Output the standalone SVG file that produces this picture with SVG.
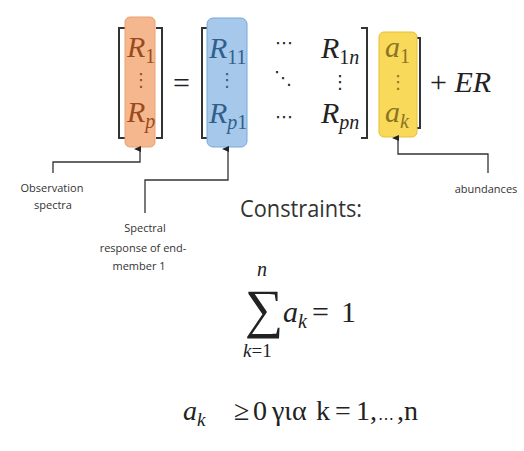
<svg xmlns="http://www.w3.org/2000/svg" width="524" height="451" viewBox="0 0 524 451">
<style>
.m{font-family:"Liberation Serif","DejaVu Serif",serif;font-size:30px;fill:#222}
.i{font-style:italic}
.n{font-style:normal}
.sub{font-size:20px}
.dots{font-family:"DejaVu Sans",sans-serif;font-size:18px;fill:#222}
.br{fill:none;stroke:#333;stroke-width:2}
.lbl{font-family:"Open Sans","Liberation Sans",sans-serif;font-size:11px;fill:#333;text-anchor:middle}
.conn{fill:none;stroke:#333;stroke-width:1.3}
.or{fill:#9a4a1c}
.bl{fill:#2f5f8c}
.ye{fill:#8a7424}
</style>
<defs>
<marker id="ah" markerWidth="8" markerHeight="8" refX="4" refY="7" orient="auto-start-reverse" markerUnits="userSpaceOnUse">
<path d="M1,8 L4,1 L7,8 Z" fill="#222"/>
</marker>
</defs>
<rect width="524" height="451" fill="#fff"/>

<g id="matrix-observation">
<path class="br" d="M125,28 H119 V138 H125"/>
<path class="br" d="M156,28 H162 V138 H156"/>
<rect x="125" y="17" width="30" height="130" rx="5" fill="#f5b88e" stroke="#e8a070" stroke-width="1"/>
<text class="m i or" x="127" y="57">R<tspan class="sub n" dy="6">1</tspan></text>
<text class="dots or" x="141" y="86" text-anchor="middle">⋮</text>
<text class="m i or" x="127" y="122">R<tspan class="sub i" dy="6">p</tspan></text>
</g>

<g id="equals">
<text class="m" x="173" y="93">=</text>
</g>

<g id="matrix-endmembers">
<path class="br" d="M208,28 H202 V138 H208"/>
<path class="br" d="M361,28 H367 V138 H361"/>
<rect x="207" y="18" width="40" height="129" rx="6" fill="#a6c8ea" stroke="#78a8d8" stroke-width="1"/>
<text class="m i bl" x="209" y="58">R<tspan class="sub n" dy="6">11</tspan></text>
<text class="dots bl" x="227" y="86" text-anchor="middle">⋮</text>
<text class="m i bl" x="209" y="123">R<tspan class="sub i" dy="6">p</tspan><tspan class="sub n">1</tspan></text>
<text class="dots" x="284" y="49" text-anchor="middle">⋯</text>
<text class="dots" x="283" y="84" text-anchor="middle">⋱</text>
<text class="dots" x="284" y="123" text-anchor="middle">⋯</text>
<text class="m i" x="321" y="58">R<tspan class="sub n" dy="6">1</tspan><tspan class="sub i">n</tspan></text>
<text class="dots" x="340" y="88" text-anchor="middle">⋮</text>
<text class="m i" x="321" y="123">R<tspan class="sub i" dy="6">pn</tspan></text>
</g>

<g id="vector-abundances">
<path class="br" d="M386,38 H381 V128 H386"/>
<path class="br" d="M414,38 H420 V128 H414"/>
<rect x="379" y="32" width="38" height="105" rx="5" fill="#f9d95a" stroke="#e8c030" stroke-width="1"/>
<text class="m i ye" x="385" y="57">a<tspan class="sub n" dy="6">1</tspan></text>
<text class="dots ye" x="398" y="88" text-anchor="middle">⋮</text>
<text class="m i ye" x="385" y="122">a<tspan class="sub i" dy="6">k</tspan></text>
</g>

<g id="plus-er">
<text class="m" x="430" y="92">+ <tspan class="i">ER</tspan></text>
</g>

<g id="connectors">
<path class="conn" d="M53,173 V162 H140 V149" marker-end="url(#ah)"/>
<path class="conn" d="M145,213 V180 H228 V149" marker-end="url(#ah)"/>
<path class="conn" d="M488,173 V154 H398 V138" marker-end="url(#ah)"/>
</g>

<g id="label-observation">
<text class="lbl" x="52" y="192">Observation</text>
<text class="lbl" x="53" y="209">spectra</text>
</g>
<g id="label-spectral">
<text class="lbl" x="145" y="232">Spectral</text>
<text class="lbl" x="143" y="252">response of end-</text>
<text class="lbl" x="139" y="270">member 1</text>
</g>
<g id="label-abundances">
<text class="lbl" x="486" y="193" font-size="10.5">abundances</text>
</g>

<g id="constraints">
<text x="240" y="217" font-family="Open Sans, Liberation Sans, sans-serif" font-size="24" fill="#333" textLength="122" lengthAdjust="spacingAndGlyphs">Constraints:</text>
<text class="m i" x="257" y="276" style="font-size:20px">n</text>
<text class="m" x="245" y="327" style="font-size:54px">∑</text>
<text class="m i" x="243" y="357" style="font-size:19px">k<tspan class="n">=1</tspan></text>
<text class="m" x="283" y="322"><tspan class="i">a</tspan><tspan class="sub i" dy="6">k</tspan><tspan dy="-6" x="312">=</tspan><tspan x="341">1</tspan></text>
<text class="m" x="183" y="420" style="font-size:28px"><tspan class="i">a</tspan><tspan class="i" style="font-size:19px" dy="6">k</tspan><tspan dy="-6" x="234">≥</tspan><tspan x="253">0</tspan><tspan x="272">για</tspan><tspan x="316">k</tspan><tspan x="335">=</tspan><tspan x="356">1,</tspan><tspan x="378" style="font-family:'DejaVu Sans',sans-serif;font-size:16px">…</tspan><tspan x="397">,</tspan><tspan x="404">n</tspan></text>
</g>
</svg>
